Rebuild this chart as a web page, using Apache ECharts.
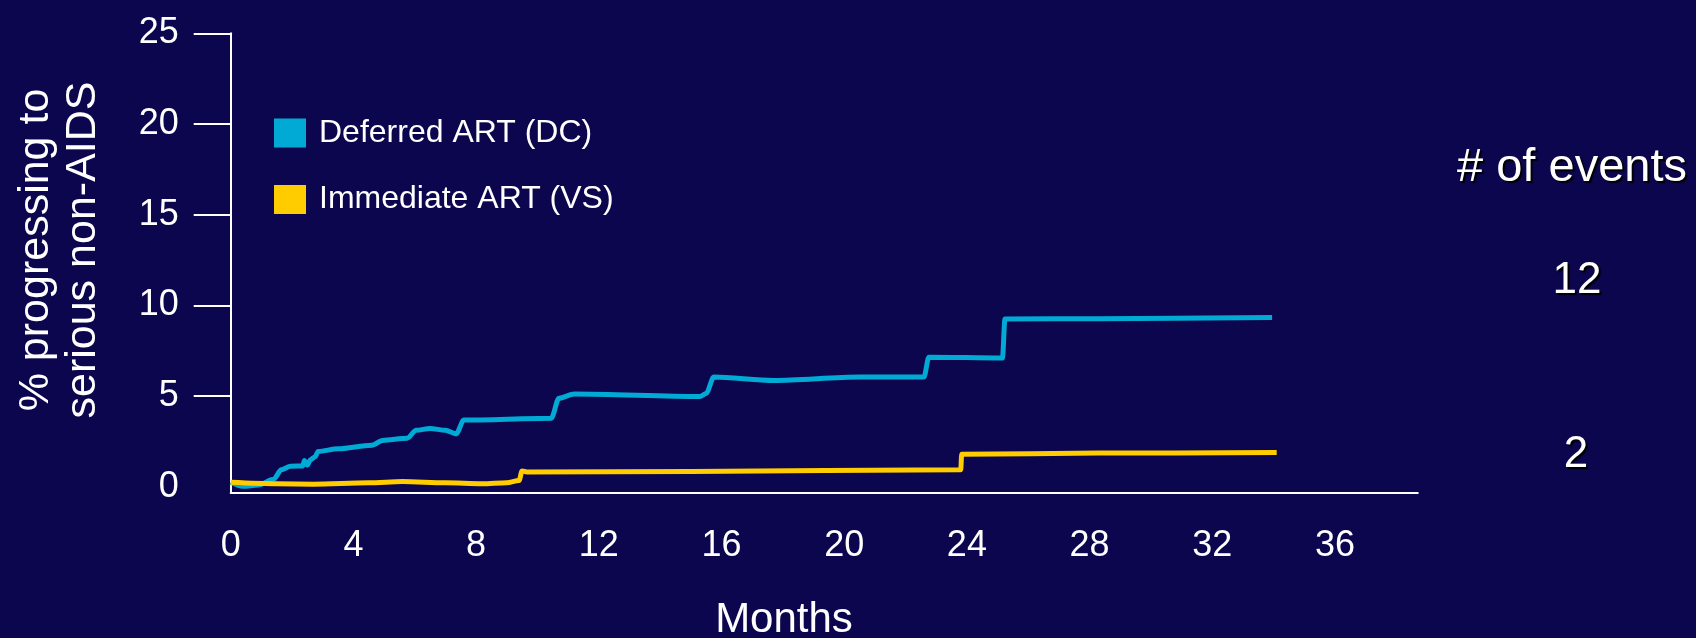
<!DOCTYPE html>
<html>
<head>
<meta charset="utf-8">
<style>
  html, body { margin: 0; padding: 0; background: #0B064D; }
  #chart { width: 1696px; height: 638px; }
</style>
<script src="https://cdn.jsdelivr.net/npm/echarts@6/dist/echarts.min.js"></script>
</head>
<body>
<div id="chart"></div>
<script>
// Cumulative % progressing to serious non-AIDS events, by months of follow-up
const seriesNames = ['Deferred ART (DC)', 'Immediate ART (VS)'];

const dcMonths = [0.0, 0.4, 0.9, 1.4, 1.65, 1.95, 2.35, 2.4, 2.5, 2.6, 2.75, 2.85, 3.5, 4.6, 4.95, 5.75, 6.05, 6.5, 7.0, 7.35, 7.6, 10.45, 10.7, 11.2, 15.3, 15.5, 15.75, 17.7, 20.5, 22.6, 22.76, 25.16, 25.24, 28.3, 33.95];
const dcValues = [0.25, 0.03, 0.1, 0.42, 0.94, 1.14, 1.15, 1.45, 1.2, 1.5, 1.65, 1.95, 2.1, 2.3, 2.56, 2.68, 3.12, 3.22, 3.12, 2.92, 3.68, 3.78, 4.88, 5.12, 4.98, 5.15, 6.05, 5.86, 6.05, 6.05, 7.15, 7.1, 9.25, 9.27, 9.33];

const vsMonths = [0.0, 1.5, 2.7, 4.5, 5.6, 7.0, 8.2, 9.0, 9.4, 9.5, 9.65, 15.0, 23.8, 23.83, 28.3, 34.1];
const vsValues = [0.25, 0.17, 0.15, 0.22, 0.29, 0.22, 0.17, 0.23, 0.35, 0.88, 0.82, 0.85, 0.94, 1.8, 1.86, 1.89];

const eventCounts = ['12', '2'];
const monthTicks = [0, 4, 8, 12, 16, 20, 24, 28, 32, 36];
const pctTicks = [0, 5, 10, 15, 20, 25];

const FONT = '"Liberation Sans", Arial, sans-serif';
const WHITE = '#FFFFFF';
const zip = (xs, ys) => xs.map((x, i) => [x, ys[i]]);

// white text with a hard black drop shadow
const shadowText = (text, x, y, size) => ({
  type: 'text', x, y,
  style: {
    text, fill: WHITE, font: size + 'px ' + FONT, align: 'center', verticalAlign: 'middle',
    textShadowColor: 'rgba(0,0,0,0.95)', textShadowOffsetX: 2, textShadowOffsetY: 2, textShadowBlur: 1,
    shadowColor: 'rgba(0,0,0,0.95)', shadowOffsetX: 2, shadowOffsetY: 2, shadowBlur: 1
  }
});

const chart = echarts.init(document.getElementById('chart'), null, { renderer: 'canvas' });

chart.setOption({
  backgroundColor: '#0B064D',
  animation: false,
  grid: { left: 230.7, right: 278.2, top: 33.3, bottom: 145.7, containLabel: false },
  legend: {
    orient: 'vertical',
    left: 269,
    top: 112,
    itemWidth: 32,
    itemHeight: 29,
    itemGap: 34.5,
    icon: 'rect',
    selectedMode: false,
    data: seriesNames,
    textStyle: { color: WHITE, fontSize: 32, fontFamily: FONT, padding: [6, 0, 0, 8] }
  },
  xAxis: {
    type: 'value',
    min: 0,
    max: 38.7,
    interval: 4,
    splitLine: { show: false },
    axisTick: { show: false },
    axisLine: { show: true, onZero: false, lineStyle: { color: WHITE, width: 2 } },
    axisLabel: {
      color: WHITE, fontSize: 36, fontFamily: FONT, margin: 36,
      customValues: monthTicks
    }
  },
  yAxis: {
    type: 'value',
    min: -0.3,
    max: 25,
    splitLine: { show: false },
    axisLine: { show: true, lineStyle: { color: WHITE, width: 2 } },
    axisTick: { show: true, length: 37, customValues: pctTicks.slice(1), lineStyle: { color: WHITE, width: 2 } },
    axisLabel: {
      color: WHITE, fontSize: 36, fontFamily: FONT, margin: 52,
      customValues: pctTicks,
      padding: [0, 0, 6, 0]
    }
  },
  series: [
    {
      name: seriesNames[0],
      type: 'line',
      data: zip(dcMonths, dcValues),
      showSymbol: false,
      smooth: 0.3,
      smoothMonotone: 'x',
      color: '#00AAD4',
      lineStyle: { color: '#00AAD4', width: 5, join: 'round' },
      z: 3
    },
    {
      name: seriesNames[1],
      type: 'line',
      data: zip(vsMonths, vsValues),
      showSymbol: false,
      smooth: 0.3,
      smoothMonotone: 'x',
      color: '#FFCC00',
      lineStyle: { color: '#FFCC00', width: 5, join: 'round' },
      z: 4
    }
  ],
  graphic: [
    {
      type: 'text', x: 60, y: 250, rotation: Math.PI / 2,
      style: {
        text: '% progressing to\nserious non-AIDS',
        fill: WHITE, font: '43px ' + FONT, lineHeight: 47,
        align: 'center', verticalAlign: 'middle'
      }
    },
    {
      type: 'text', x: 784, y: 620,
      style: { text: 'Months', fill: WHITE, font: '42px ' + FONT, align: 'center', verticalAlign: 'middle' }
    },
    shadowText('# of events', 1572, 168, 47),
    shadowText(eventCounts[0], 1577, 281, 44),
    shadowText(eventCounts[1], 1576, 455, 44)
  ]
});
</script>
</body>
</html>
